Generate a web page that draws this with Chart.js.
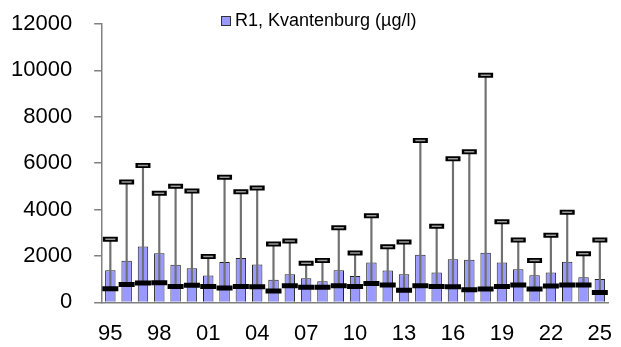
<!DOCTYPE html>
<html>
<head>
<meta charset="utf-8">
<script src="https://cdn.jsdelivr.net/npm/chart.js@4"></script>
<style>
    html, body { margin: 0; padding: 0; background: #fff; }
    #wrap { position: relative; width: 621px; height: 347px; }
    #legend {
        position: absolute; left: 221px; top: 10px;
        font: 18px "Liberation Sans", Arial, sans-serif; color: #000;
        display: flex; align-items: center; white-space: nowrap;
    }
    #legend span.box {
        display: inline-block; width: 8px; height: 8px;
        background: #9999ff; border: 1px solid #333; margin-right: 4px;
    }
</style>
</head>
<body>
<div id="wrap">
    <canvas id="chart" width="621" height="347"></canvas>
    <div id="legend"><span class="box"></span>R1, Kvantenburg (µg/l)</div>
</div>
<script>
// Years 1995-2025
const years = ['95','96','97','98','99','00','01','02','03','04','05','06','07','08','09','10',
               '11','12','13','14','15','16','17','18','19','20','21','22','23','24','25'];

// Mean (bar height)
const meanValues = [1390, 1790, 2410, 2120, 1620, 1470, 1160, 1740, 1910, 1630, 980, 1210, 1040, 910, 1390, 1140,
                    1720, 1370, 1210, 2050, 1290, 1860, 1840, 2140, 1720, 1430, 1170, 1290, 1750, 1080, 1010];

// Median (thick dash)
const medianValues = [590, 770, 840, 850, 680, 740, 690, 620, 690, 670, 490, 720, 650, 650, 720, 690,
                      820, 750, 520, 720, 690, 670, 540, 580, 680, 750, 580, 710, 750, 750, 430];

// Maximum (cap)
const maxValues = [2720, 5190, 5900, 4700, 5010, 4800, 1980, 5390, 4770, 4930, 2520, 2650, 1690, 1810, 3220, 2130,
                   3730, 2400, 2600, 6980, 3280, 6190, 6490, 9790, 3480, 2690, 1810, 2890, 3890, 2100, 2690];

const yTicks = [0, 2000, 4000, 6000, 8000, 10000, 12000];

const whiskers = medianValues.map((m, i) => [m, maxValues[i]]);

const ctx = document.getElementById('chart').getContext('2d');
new Chart(ctx, {
    data: {
        labels: years,
        datasets: [
            {
                type: 'line',
                data: maxValues,
                showLine: false,
                pointStyle: 'line',
                pointRadius: 5,
                pointBorderWidth: 1.5,
                pointBorderColor: '#9a9a9a',
                order: 0
            },
            {
                type: 'line',
                data: maxValues,
                showLine: false,
                pointStyle: 'line',
                pointRadius: 7.5,
                pointBorderWidth: 5,
                pointBorderColor: '#000',
                order: 1
            },
            {
                type: 'line',
                data: medianValues,
                showLine: false,
                pointStyle: 'line',
                pointRadius: 8,
                pointBorderWidth: 5,
                pointBorderColor: '#000',
                order: 2
            },
            {
                type: 'bar',
                data: whiskers,
                grouped: false,
                barThickness: 1.5,
                backgroundColor: '#707070',
                borderWidth: 0,
                order: 3
            },
            {
                type: 'bar',
                label: 'R1, Kvantenburg (µg/l)',
                data: meanValues,
                grouped: false,
                categoryPercentage: 1,
                barPercentage: 0.64,
                backgroundColor: '#9999ff',
                borderColor: '#222',
                borderWidth: 1,
                order: 4
            }
        ]
    },
    options: {
        responsive: false,
        animation: false,
        events: [],
        layout: {
            padding: { left: 11, right: 6, top: 24, bottom: 1 }
        },
        plugins: {
            legend: { display: false },
            tooltip: { enabled: false }
        },
        scales: {
            x: {
                grid: { display: false, drawTicks: false },
                border: { color: '#808080', width: 1.5 },
                ticks: {
                    color: '#000',
                    font: { family: '"Liberation Sans", Arial', size: 22, lineHeight: 0.9 },
                    padding: 2,
                    autoSkip: false,
                    maxRotation: 0,
                    // blank first line pushes the year label down
                    callback: function(value, index) {
                        return index % 3 === 0 ? ['', years[index]] : '';
                    }
                }
            },
            y: {
                min: 0,
                max: 12000,
                afterBuildTicks: (scale) => {
                    scale.ticks = yTicks.map(v => ({ value: v }));
                },
                grid: {
                    drawOnChartArea: false,
                    drawTicks: true,
                    tickLength: 30,
                    // only the 8px next to the axis is visible
                    tickBorderDash: [0, 22, 8, 60],
                    color: '#808080',
                    lineWidth: 1.5
                },
                border: { color: '#808080', width: 1.5 },
                ticks: {
                    color: '#000',
                    font: { family: '"Liberation Sans", Arial', size: 22 },
                    padding: 0,
                    callback: (value) => String(value)
                }
            }
        }
    }
});
</script>
</body>
</html>
